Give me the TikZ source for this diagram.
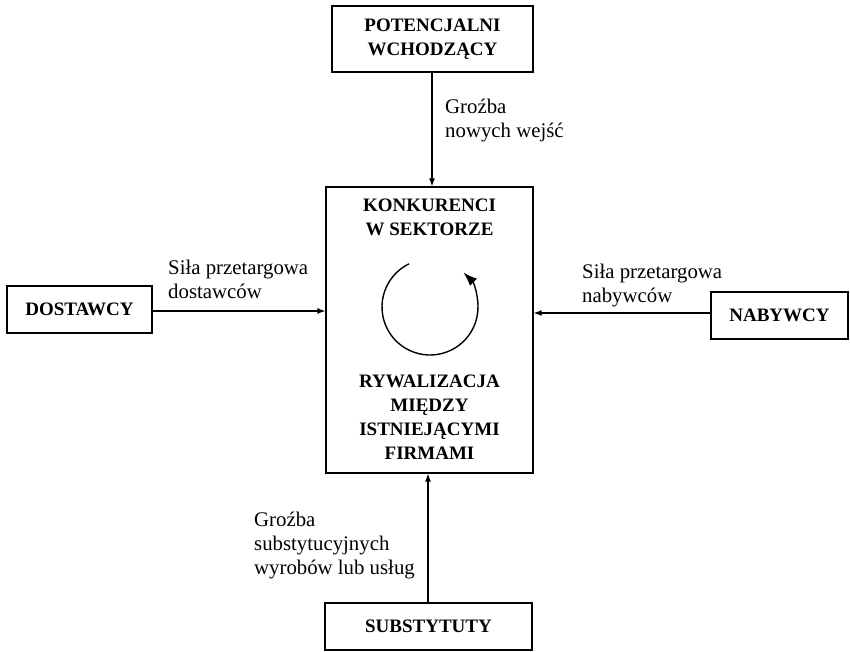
\documentclass[tikz,border=0pt]{standalone}
\usepackage{fontspec}
\setmainfont{Liberation Serif}
\usetikzlibrary{arrows.meta}
\begin{document}
\begin{tikzpicture}[x=1pt,y=-1pt,
  box/.style={draw,line width=1.2pt,inner sep=0pt,align=center,font=\fontsize{19}{24}\selectfont\bfseries},
  lab/.style={inner sep=0pt,align=left,anchor=north west,font=\fontsize{20.8}{24}\selectfont},
  arr/.style={line width=1.2pt,-{Latex[length=8pt,width=6pt]}}]
\useasboundingbox (0,0) rectangle (850,652);
\node[box,minimum width=201pt,minimum height=66pt] (top) at (432.5,39) {POTENCJALNI\\WCHODZĄCY};
\node[draw,line width=1.2pt,minimum width=207pt,minimum height=286pt,inner sep=0pt] (main) at (429.5,330) {};
\node[box,draw=none] (k) at (429.5,217) {KONKURENCI\\W SEKTORZE};
\node[box,draw=none] (r) at (429.5,417.5) {RYWALIZACJA\\MIĘDZY\\ISTNIEJĄCYMI\\FIRMAMI};
\node[box,minimum width=145pt,minimum height=47pt] (dost) at (79.5,309.5) {DOSTAWCY};
\node[box,minimum width=137pt,minimum height=47pt] (naby) at (779.5,315.5) {NABYWCY};
\node[box,minimum width=207pt,minimum height=47pt] (subs) at (428.5,626.5) {SUBSTYTUTY};
\coordinate (c) at (430,307);
\draw[line width=1.4pt,-{Latex[length=14pt,width=10pt]}] ([shift={(116:48pt)}]c) arc[start angle=116,end angle=406,radius=48pt];
\draw[arr] (top.south -| 432,0) -- (main.north -| 432,0);
\draw[arr] (dost.east |- 0,311) -- (main.west |- 0,311);
\draw[arr] (naby.west |- 0,313) -- (main.east |- 0,313);
\draw[arr] (subs.north -| 428,0) -- (main.south -| 428,0);
\node[lab] (l1) at (445,99) {Groźba\\nowych wejść};
\node[lab] (l2) at (168,260) {Siła przetargowa\\dostawców};
\node[lab] (l3) at (582,264) {Siła przetargowa\\nabywców};
\node[lab] (l4) at (254,512) {Groźba\\substytucyjnych\\wyrobów lub usług};
\end{tikzpicture}
\end{document}
